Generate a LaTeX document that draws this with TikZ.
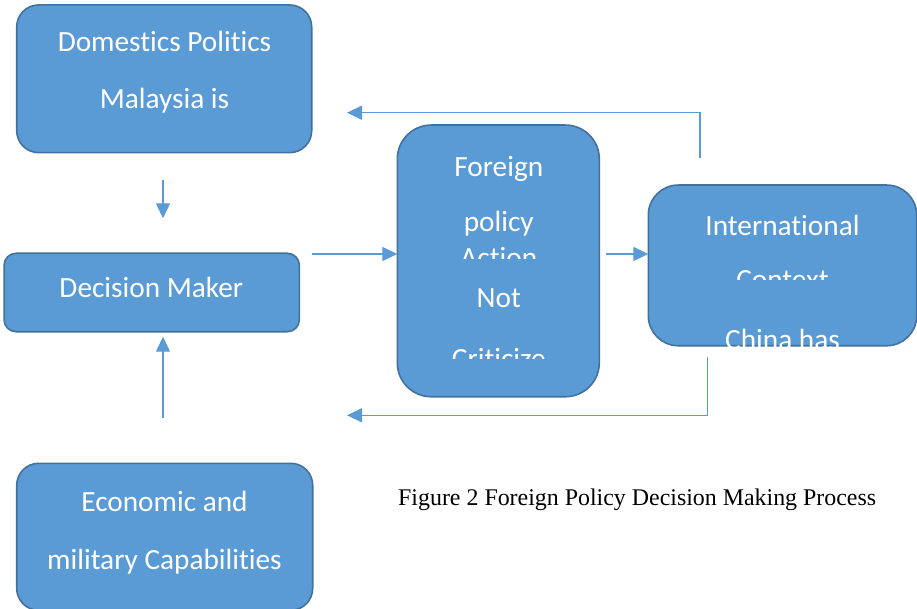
\documentclass[tikz,border=0pt]{standalone}
\usepackage{fontspec}
\setmainfont{Liberation Serif}
\newfontfamily\boxfont[Ligatures={NoCommon}]{Carlito}
\usetikzlibrary{arrows.meta}
\definecolor{boxfill}{HTML}{5B9BD5}
\definecolor{boxline}{HTML}{41719C}
\definecolor{linkblue}{HTML}{5B9BD5}
\tikzset{
  panel/.style={draw=boxline, line width=1.6pt, fill=boxfill, rounded corners=#1, inner sep=0pt, outer sep=0pt},
  boxtext/.style={text=white, font=\boxfont\fontsize{29.3}{35}\selectfont, anchor=base, inner sep=0pt},
  link/.style={draw=linkblue, line width=1.3pt, -{Triangle[length=15pt,width=14pt]}},
  caption/.style={anchor=base west, inner sep=0pt, font=\fontsize{23.9}{28}\selectfont}
}
\begin{document}
\begin{tikzpicture}[x=1pt,y=-1pt]
\useasboundingbox (0,0) rectangle (917,609);

% boxes
\node[panel=22pt, minimum width=295pt, minimum height=147.7pt] (dom) at (164.2,78.8) {};
\node[panel=12pt, minimum width=295.3pt, minimum height=78.4pt] (dm) at (151.7,292.5) {};
\node[panel=22pt, minimum width=296pt, minimum height=147pt] (ec) at (164.7,536.8) {};
\node[panel=34pt, minimum width=202pt, minimum height=271.7pt] (fp) at (498.3,260.9) {};
\node[panel=30pt, minimum width=268.4pt, minimum height=160.7pt] (ic) at (782.5,265.4) {};

% box texts
\node[boxtext] (domA) at (164.5,51.7) {Domestics Politics};
\node[boxtext] (domB) at (164.5,109) {Malaysia is};
\node[boxtext] (dmA) at (151.3,297.3) {Decision Maker};
\node[boxtext] (ecA) at (164.5,511) {Economic and};
\node[boxtext] (ecB) at (164.5,569) {military Capabilities};

\node[boxtext] (fpA) at (498.8,177) {Foreign};
\node[boxtext] (fpB) at (498.8,231.7) {policy};
\begin{scope}
  \clip (400,240) rectangle (597,259);
  \node[boxtext] (fpC) at (498.8,268) {Action};
\end{scope}
\node[boxtext] (fpD) at (498.8,307.7) {Not};
\begin{scope}
  \clip (400,340) rectangle (597,358);
  \node[boxtext] (fpE) at (498.8,368) {Criticize};
\end{scope}

\node[boxtext] (icA) at (782.5,235.7) {International};
\begin{scope}
  \clip (652,262) rectangle (914,280);
  \node[boxtext] (icB) at (782.5,289.7) {Context};
\end{scope}
\begin{scope}
  \clip (652,322) rectangle (914,346.7);
  \node[boxtext] (icC) at (782.5,349.7) {China has};
\end{scope}

% connectors
\coordinate (colx) at (163,0);
\coordinate (rowmid) at (0,254);
\coordinate (fbx) at (700,0);
\coordinate (fbxb) at (707.3,0);
\coordinate (fbtop) at (347,112.7);
\coordinate (fbbot) at (347,415.3);

\draw[link, shorten <=27pt, shorten >=35pt] (dom.south -| colx) -- (dm.north -| colx);
\draw[link, shorten <=45.3pt, shorten >=5pt] (ec.north -| colx) -- (dm.south -| colx);
\draw[link, shorten <=13pt] (dm.east |- rowmid) -- (fp.west |- rowmid);
\draw[link, shorten <=6.5pt] (fp.east |- rowmid) -- (ic.west |- rowmid);
\draw[link, shorten <=27pt] (ic.north -| fbx) |- (fbtop);
\draw[link, shorten <=11.3pt] (ic.south -| fbxb) |- (fbbot);

% caption
\node[caption] (cap) at (398,505) {Figure 2 Foreign Policy Decision Making Process};
\end{tikzpicture}
\end{document}
